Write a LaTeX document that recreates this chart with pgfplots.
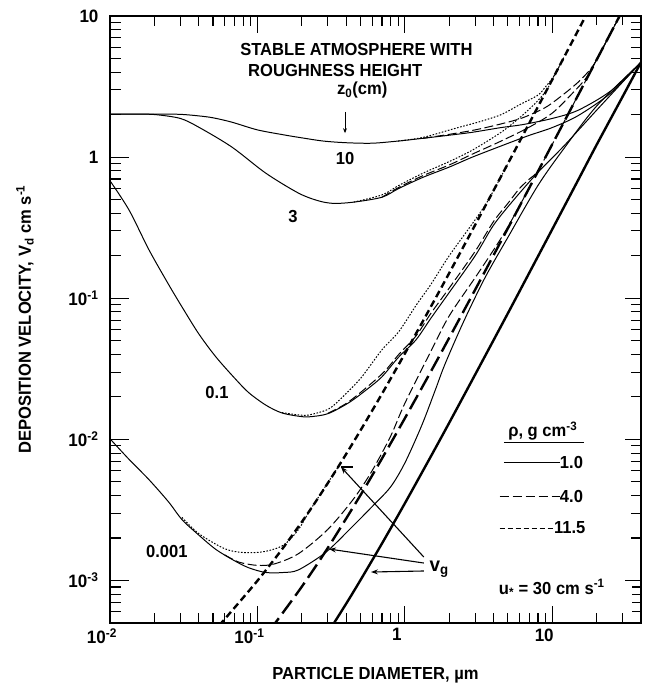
\documentclass[border=0pt]{standalone}
\usepackage{fontspec}
\setmainfont[FakeStretch=0.95]{Liberation Sans}
\usepackage{pgfplots}
\pgfplotsset{compat=1.18}
\usetikzlibrary{arrows.meta}
\newcommand\lab{\fontsize{17.5}{20}\selectfont\bfseries}
\begin{document}
\begin{tikzpicture}
\begin{axis}[
  scale only axis, width=531bp, height=607bp,
  xmode=log, ymode=log,
  xmin=0.01, xmax=40, ymin=5e-4, ymax=10,
  axis line style={line width=1.6pt},
  tick align=inside,
  major tick length=16bp, minor tick length=10bp,
  tick style={line width=1.1pt, black},
  xtick={0.01,0.1,1,10},
  xticklabels={10\textsuperscript{-2},10\textsuperscript{-1},1,10},
  ytick={0.001,0.01,0.1,1,10},
  yticklabels={10\textsuperscript{-3},10\textsuperscript{-2},10\textsuperscript{-1},1,10},
  ticklabel style={font=\fontsize{18}{20}\selectfont\bfseries},
  xticklabel style={xshift=-8bp, yshift=-2bp},
  yticklabel style={xshift=-8bp},
  xlabel={PARTICLE DIAMETER, µm},
  ylabel={DEPOSITION VELOCITY, V\textsubscript{d} cm s\textsuperscript{-1}},
  every axis x label/.style={at={(rel axis cs:0.5,0)}, anchor=center, yshift=-52bp, font=\lab},
  every axis y label/.style={at={(rel axis cs:0,0.5)}, anchor=center, rotate=90, yshift=85bp, font=\lab},
  clip=true,
]
% ---------- tick marks (both ends in axis coordinates) ----------
\pgfplotsinvokeforeach{0.1,1,10}{
  \draw[line width=1.1pt] (axis cs:#1,5e-4) -- (axis cs:#1,6.6e-4);
  \draw[line width=1.1pt] (axis cs:#1,10) -- (axis cs:#1,7.58);
}
\pgfplotsinvokeforeach{0.02,0.03,0.04,0.05,0.06,0.07,0.08,0.09,0.2,0.3,0.4,0.5,0.6,0.7,0.8,0.9,2,3,4,5,6,7,8,9,20,30}{
  \draw[line width=1.1pt] (axis cs:#1,5e-4) -- (axis cs:#1,5.885e-4);
  \draw[line width=1.1pt] (axis cs:#1,10) -- (axis cs:#1,8.636);
}
\pgfplotsinvokeforeach{0.001,0.01,0.1,1}{
  \draw[line width=1.1pt] (axis cs:0.01,#1) -- (axis cs:0.013456,#1);
  \draw[line width=1.1pt] (axis cs:40,#1) -- (axis cs:31.65,#1);
}
\pgfplotsinvokeforeach{0.0006,0.0007,0.0008,0.0009,0.002,0.003,0.004,0.005,0.006,0.007,0.008,0.009,0.02,0.03,0.04,0.05,0.06,0.07,0.08,0.09,0.2,0.3,0.4,0.5,0.6,0.7,0.8,0.9,2,3,4,5,6,7,8,9}{
  \draw[line width=1.1pt] (axis cs:0.01,#1) -- (axis cs:0.011875,#1);
  \draw[line width=1.1pt] (axis cs:40,#1) -- (axis cs:34.75,#1);
}
% ---------- z0 = 10 ----------
\addplot[smooth, line width=1pt] coordinates {(0.01,2.02)(0.015,2.02)(0.02,2.02)(0.03,2.01)(0.04,1.96)(0.05,1.9)(0.067,1.77)(0.1,1.56)(0.15,1.44)(0.2,1.37)(0.28,1.3)(0.4,1.265)(0.6,1.255)(0.9,1.3)(1.33,1.36)(2,1.43)(2.87,1.5)(4.5,1.62)(6.3,1.7)(10,1.88)(15,2.15)(25,2.95)(40,4.7)};
\addplot[smooth, line width=1pt, dash pattern=on 9pt off 3.5pt] coordinates {(1.33,1.36)(2,1.45)(3,1.56)(4.5,1.72)(6.3,1.9)(9,2.25)(12,2.8)(15,3.4)(18,4.15)(20,4.89)(25,7.62)(29,10.25)};
\addplot[smooth, line width=1pt, dash pattern=on 1.6pt off 1.6pt] coordinates {(0.9,1.3)(1.33,1.38)(2.2,1.6)(3.2,1.78)(4.5,2.0)(6,2.35)(8,2.75)(9,3.15)(10,3.6)(11,4.27)(12,5.09)};
% ---------- z0 = 3 ----------
\addplot[smooth, line width=1pt] coordinates {(0.01,2.02)(0.015,2.02)(0.0205,2.0)(0.03,1.88)(0.04,1.63)(0.067,1.18)(0.114,0.77)(0.19,0.556)(0.26,0.49)(0.33,0.47)(0.45,0.48)(0.7,0.52)(0.91,0.6)(1.33,0.72)(2,0.85)(2.87,1.0)(4.5,1.2)(6.9,1.42)(10,1.62)(15,1.97)(25,2.85)(40,4.7)};
\addplot[smooth, line width=1pt, dash pattern=on 9pt off 3.5pt] coordinates {(0.7,0.52)(0.91,0.61)(1.33,0.74)(2,0.88)(2.87,1.05)(4.5,1.3)(6.9,1.62)(10,2.05)(14,2.9)(17,3.65)(20,4.89)(25,7.62)(29,10.25)};
\addplot[smooth, line width=1pt, dash pattern=on 1.6pt off 1.6pt] coordinates {(0.45,0.48)(0.7,0.54)(0.91,0.63)(1.33,0.77)(2,0.93)(2.87,1.12)(4.5,1.5)(6,1.9)(7.5,2.35)(9,2.9)(10,3.54)(12,5.09)};
% ---------- z0 = 0.1 ----------
\addplot[smooth, line width=1pt] coordinates {(0.01,0.68)(0.0135,0.42)(0.0184,0.22)(0.025,0.125)(0.0308,0.0868)(0.04,0.056)(0.0523,0.0384)(0.07,0.0272)(0.0875,0.0214)(0.115,0.0174)(0.1465,0.0154)(0.19,0.0146)(0.2234,0.01445)(0.3,0.0152)(0.417,0.0182)(0.55,0.0225)(0.698,0.0277)(0.91,0.0384)(1.19,0.0507)(1.5,0.072)(1.99,0.109)(3,0.2)(4,0.33)(5.5,0.5)(8,0.78)(12,1.2)(20,2.15)(40,4.7)};
\addplot[smooth, line width=1pt, dash pattern=on 9pt off 3.5pt] coordinates {(0.3,0.0153)(0.417,0.0185)(0.698,0.029)(0.91,0.04)(1.19,0.054)(1.5,0.078)(2,0.118)(3,0.215)(4,0.35)(5,0.47)(6,0.6)(7,0.7)(8,0.8)(10,1.232)(15,2.756)(20,4.89)(25,7.62)(29,10.25)};
\addplot[smooth, line width=1pt, dash pattern=on 1.6pt off 1.6pt] coordinates {(0.1465,0.0155)(0.19,0.0149)(0.2234,0.0149)(0.3,0.0163)(0.36,0.019)(0.5,0.027)(0.698,0.043)(0.91,0.058)(1.2,0.09)(1.5,0.125)(2,0.2)(3,0.36)(3.7,0.5)(5,0.899)};
% ---------- z0 = 0.001 ----------
\addplot[smooth, line width=1pt] coordinates {(0.01,0.0101)(0.0135,0.0072)(0.0184,0.00518)(0.025,0.0036)(0.0308,0.0027)(0.04,0.0021)(0.0523,0.00166)(0.07,0.00138)(0.0875,0.00123)(0.114,0.00114)(0.15,0.00114)(0.19,0.00119)(0.29,0.00158)(0.42,0.00229)(0.6,0.00334)(0.8,0.0046)(1,0.0068)(1.3,0.0125)(1.6,0.022)(1.87,0.034)(2.5,0.068)(3.5,0.14)(5,0.27)(8,0.63)(12,1.15)(20,2.3)(40,4.7)};
\addplot[smooth, line width=1pt, dash pattern=on 9pt off 3.5pt] coordinates {(0.06,0.00152)(0.075,0.00135)(0.1,0.00128)(0.13,0.00131)(0.19,0.00155)(0.3,0.0023)(0.45,0.0038)(0.6,0.006)(0.8,0.0105)(1,0.018)(1.5,0.042)(2,0.075)(3,0.14)(4,0.22)(5,0.32)(7,0.608)};
\addplot[smooth, line width=1pt, dash pattern=on 1.6pt off 1.6pt] coordinates {(0.0308,0.0028)(0.04,0.00215)(0.06,0.00168)(0.08,0.00158)(0.11,0.0016)(0.15,0.00178)(0.19,0.0023)(0.23,0.00321)(0.35,0.00629)};
% ---------- gravitational settling v_g ----------
\addplot[smooth, line width=2.4pt] coordinates {(0.3,4.25e-4)(0.4,6.85e-4)(0.5,1.006e-3)(0.7,1.83e-3)(1,3.52e-3)(1.5,7.56e-3)(2,0.0131)(3,0.0288)(5,0.0782)(7,0.152)(10,0.308)(15,0.689)(20,1.222)(30,2.68)(40,4.7)};
\addplot[smooth, line width=2.4pt, dash pattern=on 16pt off 6pt] coordinates {(0.12,4.4e-4)(0.136,5.21e-4)(0.2,9.04e-4)(0.3,1.70e-3)(0.5,4.02e-3)(0.7,7.32e-3)(1,0.0141)(1.5,0.0302)(2,0.0524)(3,0.115)(5,0.313)(7,0.608)(10,1.232)(15,2.756)(20,4.89)(25,7.62)(29,10.25)};
\addplot[smooth, line width=2.4pt, dash pattern=on 7pt off 4pt] coordinates {(0.055,4.81e-4)(0.064,5.76e-4)(0.1,9.96e-4)(0.15,1.715e-3)(0.23,3.21e-3)(0.35,6.29e-3)(0.5,0.01157)(0.7,0.02104)(1,0.0405)(1.5,0.0869)(2,0.1507)(3,0.331)(5,0.899)(7,1.748)(10,3.54)(14,6.91)(17.2,10.4)};
% ---------- annotations ----------
\node[anchor=west, font=\lab, inner sep=0pt] at (rel axis cs:0.245,0.944) {STABLE ATMOSPHERE WITH};
\node[anchor=west, font=\lab, inner sep=0pt] at (rel axis cs:0.26,0.911) {ROUGHNESS HEIGHT};
\node[anchor=west, font=\lab, inner sep=0pt] at (rel axis cs:0.4275,0.878) {z\textsubscript{0}(cm)};
\draw[-{Stealth[length=5pt,width=4pt]}, line width=0.9pt] (rel axis cs:0.4426,0.842) -- (rel axis cs:0.4426,0.807);
\node[font=\lab] at (rel axis cs:0.4426,0.766) {10};
\node[font=\lab] at (rel axis cs:0.3446,0.669) {3};
\node[font=\lab] at (rel axis cs:0.2015,0.379) {0.1};
\node[font=\lab] at (rel axis cs:0.107,0.117) {0.001};
% legend
\node[font=\lab, inner sep=0pt, anchor=base] at (rel axis cs:0.815,0.307) {ρ, g cm\textsuperscript{-3}};
\draw[line width=1.1pt] (rel axis cs:0.742,0.298) -- (rel axis cs:0.893,0.298);
\draw[line width=1pt] (rel axis cs:0.742,0.265) -- (rel axis cs:0.847,0.265);
\node[font=\lab, anchor=west, inner sep=0pt] at (rel axis cs:0.847,0.265) {1.0};
\draw[line width=1pt, dash pattern=on 9pt off 4pt] (rel axis cs:0.734,0.2076) -- (rel axis cs:0.847,0.2076);
\node[font=\lab, anchor=west, inner sep=0pt] at (rel axis cs:0.847,0.2076) {4.0};
\draw[line width=1pt, dash pattern=on 5pt off 3pt] (rel axis cs:0.734,0.1565) -- (rel axis cs:0.836,0.1565);
\node[font=\lab, anchor=west, inner sep=0pt] at (rel axis cs:0.836,0.1565) {11.5};
\node[font=\lab] at (rel axis cs:0.832,0.0577) {u\textsubscript{*} = 30 cm s\textsuperscript{-1}};
\node[font=\fontsize{20}{22}\selectfont\bfseries] at (rel axis cs:0.62,0.088) {v\textsubscript{g}};
\draw[-{Stealth[length=7pt,width=5pt]}, line width=1.1pt] (rel axis cs:0.591,0.1087) -- (rel axis cs:0.435,0.257);
\draw[line width=1.1pt] (rel axis cs:0.435,0.257) -- (rel axis cs:0.457,0.257);
\draw[-{Stealth[length=7pt,width=5pt]}, line width=1.1pt] (rel axis cs:0.591,0.0988) -- (rel axis cs:0.4124,0.1219);
\draw[-{Stealth[length=7pt,width=5pt]}, line width=1.1pt] (rel axis cs:0.591,0.0857) -- (rel axis cs:0.4915,0.084);
\end{axis}
\path ([shift={(-110bp,-67bp)}]current axis.south west) rectangle ([shift={(7bp,16bp)}]current axis.north east);
\end{tikzpicture}
\end{document}
